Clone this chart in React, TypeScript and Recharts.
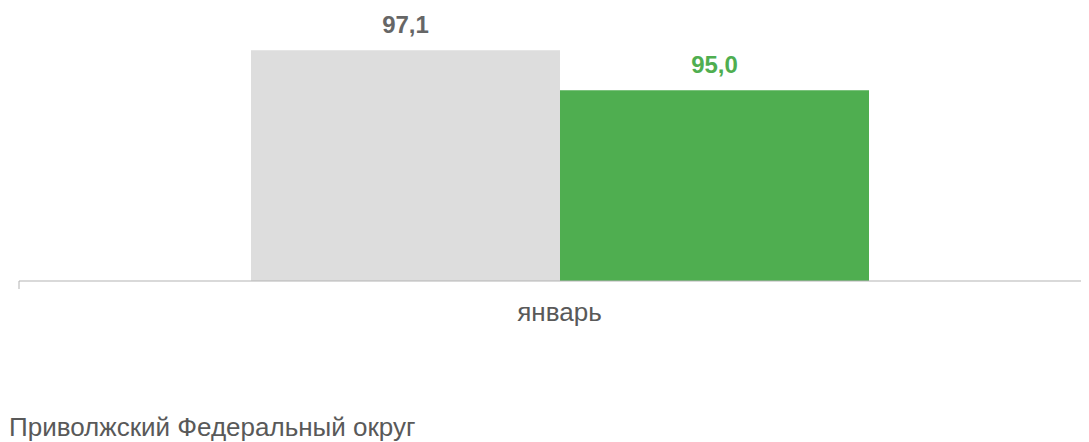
import React from "react";
import { BarChart, Bar, XAxis, YAxis, LabelList } from "recharts";

const categories = ["январь"];
const seriesPrev = [97.1];
const seriesCurr = [95.0];
const footerTitle = "Приволжский Федеральный округ";

const data = categories.map((c, i) => ({ name: c, prev: seriesPrev[i], curr: seriesCurr[i] }));

const fmt = (v: any) => Number(v).toFixed(1).replace(".", ",");

const FONT = "'Liberation Sans', Arial, sans-serif";
const TICK_GAP = 22;

const CustomTick = (props: any) => {
  const { x, y, payload } = props;
  const off = payload && payload.offset ? payload.offset : 0;
  const axisY = y - TICK_GAP;
  return (
    <g>
      <line x1={x - off} x2={x - off} y1={axisY} y2={axisY + 8} stroke="#b3b3b3" strokeWidth={1} />
      <line x1={x + off} x2={x + off} y1={axisY} y2={axisY + 8} stroke="#b3b3b3" strokeWidth={1} />
      <text x={x} y={y} dy="0.71em" textAnchor="middle" fill="#595959" fontSize={26} fontFamily={FONT}>
        {payload.value}
      </text>
    </g>
  );
};

export default function App() {
  return (
    <div style={{ width: 1081, fontFamily: FONT }}>
      <div style={{ width: 1081, height: 340, overflow: "hidden" }}>
        <BarChart
          width={1092}
          height={340}
          data={data}
          margin={{ top: 6, right: 0, left: 11, bottom: 0 }}
          barCategoryGap={232}
          barGap={0}
        >
          <YAxis hide domain={[85, 99]} allowDataOverflow />
          <XAxis
            dataKey="name"
            axisLine={{ stroke: "#b3b3b3", strokeWidth: 1 }}
            tickLine={false}
            tickSize={0}
            tickMargin={TICK_GAP}
            tick={<CustomTick />}
            height={67}
            interval={0}
          />
          <Bar dataKey="prev" fill="#dddddd" isAnimationActive={false}>
            <LabelList
              dataKey="prev"
              position="top"
              offset={17}
              formatter={fmt}
              fill="#666666"
              fontSize={24}
              fontWeight="bold"
              fontFamily={FONT}
            />
          </Bar>
          <Bar dataKey="curr" fill="#4fae50" isAnimationActive={false}>
            <LabelList
              dataKey="curr"
              position="top"
              offset={17}
              formatter={fmt}
              fill="#4fae50"
              fontSize={24}
              fontWeight="bold"
              fontFamily={FONT}
            />
          </Bar>
        </BarChart>
      </div>
      <div
        style={{
          marginTop: 66,
          paddingLeft: 1,
          paddingBottom: 2,
          fontSize: 26,
          lineHeight: "26px",
          color: "#595959",
          whiteSpace: "nowrap",
        }}
      >
        {footerTitle}
      </div>
    </div>
  );
}
